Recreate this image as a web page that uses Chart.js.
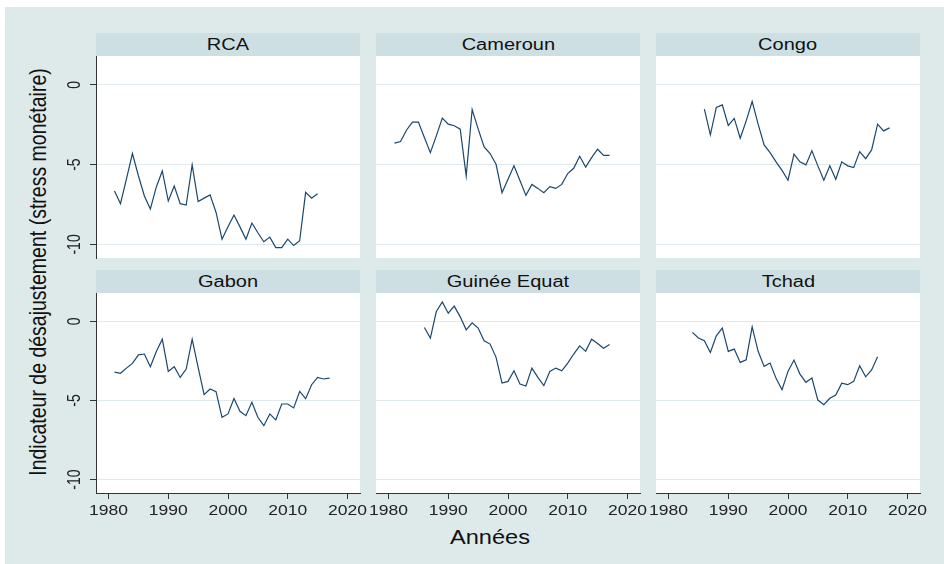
<!DOCTYPE html>
<html>
<head>
<meta charset="utf-8">
<script src="https://cdn.jsdelivr.net/npm/chart.js@4.4.0/dist/chart.umd.min.js"></script>
<style>
  body { margin: 0; width: 944px; height: 564px; overflow: hidden; position: relative; background: #fff;
         font-family: "Liberation Sans", Arial, sans-serif; }
  #bg { position: absolute; left: 5px; top: 7px; right: 0; bottom: 0; background: #deeaea; }
  .hdr { position: absolute; height: 23px; line-height: 23px; background: #cedfe4; text-align: center;
         font-size: 16px; color: #111; }
  .hdr span { display: inline-block; transform: scaleX(1.25); }
  canvas { position: absolute; }
  .ttl { position: absolute; white-space: nowrap; color: #111; }
</style>
</head>
<body>
<div id="bg"></div>
<div class="ttl" id="ytitle" style="left:38px;top:272px;font-size:19.5px;transform:translate(-50%,-50%) rotate(-90deg) scaleY(1.2)">Indicateur de désajustement (stress monétaire)</div>
<div class="ttl" id="xtitle" style="left:490px;top:537px;font-size:20px;transform:translate(-50%,-50%) scaleX(1.18)">Années</div>
<script>
// data
const countries = ["RCA", "Cameroun", "Congo", "Gabon", "Guinée Equat", "Tchad"];
const startYears = [1981, 1981, 1986, 1981, 1986, 1984];

const rca = [-6.65, -7.45, -5.9, -4.31, -5.7, -6.97, -7.78, -6.4, -5.4, -7.28,
  -6.34, -7.45, -7.53, -5.02, -7.32, -7.1, -6.9, -8.0, -9.67, -8.9,
  -8.16, -8.9, -9.67, -8.66, -9.27, -9.83, -9.54, -10.2, -10.2, -9.67,
  -10.07, -9.77, -6.74, -7.1, -6.82];
const cameroun = [-3.66, -3.56, -2.85, -2.34, -2.34, -3.3, -4.25, -3.2, -2.09, -2.47,
  -2.57, -2.78, -5.71, -1.55, -2.76, -3.89, -4.31, -4.98, -6.76, -5.92,
  -5.08, -6.0, -6.93, -6.24, -6.49, -6.76, -6.38, -6.49, -6.24, -5.56,
  -5.23, -4.48, -5.15, -4.56, -4.04, -4.42, -4.42];
const congo = [-1.53, -3.14, -1.42, -1.26, -2.55, -2.11, -3.35, -2.26, -1.05, -2.47,
  -3.77, -4.25, -4.83, -5.36, -5.98, -4.35, -4.83, -5.02, -4.14, -5.08,
  -5.98, -5.08, -5.92, -4.83, -5.08, -5.19, -4.19, -4.63, -4.08, -2.47,
  -2.89, -2.7];
const gabon = [-3.2, -3.28, -2.95, -2.65, -2.11, -2.06, -2.86, -1.9, -1.12, -3.16,
  -2.86, -3.54, -3.01, -1.12, -2.9, -4.63, -4.27, -4.44, -6.06, -5.85,
  -4.88, -5.68, -5.96, -5.11, -6.06, -6.59, -5.85, -6.23, -5.22, -5.22,
  -5.47, -4.42, -4.88, -4.0, -3.54, -3.64, -3.58];
const guineeEquat = [-0.38, -1.05, 0.63, 1.24, 0.52, 0.97, 0.29, -0.53, -0.09, -0.42,
  -1.22, -1.43, -2.27, -3.9, -3.79, -3.12, -3.96, -4.08, -2.95, -3.54,
  -4.06, -3.16, -2.95, -3.12, -2.63, -2.06, -1.54, -1.89, -1.12, -1.39,
  -1.7, -1.45];
const tchad = [-0.69, -1.05, -1.22, -1.96, -0.91, -0.42, -1.89, -1.75, -2.59, -2.42,
  -0.34, -1.89, -2.84, -2.63, -3.6, -4.32, -3.16, -2.44, -3.33, -3.85,
  -3.58, -4.97, -5.26, -4.86, -4.65, -3.9, -4.0, -3.79, -2.8, -3.5,
  -3.07, -2.23];

const series = [rca, cameroun, congo, gabon, guineeEquat, tchad];
const xTicks = [1980, 1990, 2000, 2010, 2020];
const yTicks = [-10, -5, 0];

// layout
const colX = [96, 376, 656];
const hdrY = [33, 270];
const plotY = [56, 293];
const plotH = [202, 200];
const PW = 264, LPAD = 45, RPAD = 30, BPAD = 40;
const FONT = '14px "Liberation Sans", Arial, sans-serif';

// white plot region + tick labels drawn at the scales' own positions
const panelPlugin = {
  id: 'panel',
  beforeDraw(chart) {
    const a = chart.chartArea, ctx = chart.ctx;
    ctx.save();
    ctx.fillStyle = '#fff';
    ctx.fillRect(a.left, a.top, a.right - a.left, a.bottom - a.top);
    ctx.restore();
  },
  afterDraw(chart, args, opts) {
    const a = chart.chartArea, ctx = chart.ctx;
    ctx.save();
    ctx.fillStyle = '#222';
    ctx.font = FONT;
    ctx.textAlign = 'center';
    ctx.textBaseline = 'middle';
    if (opts.showX) {
      chart.scales.x.ticks.forEach(t => {
        const px = chart.scales.x.getPixelForValue(t.value);
        ctx.save();
        ctx.translate(px, a.bottom + 18);
        ctx.scale(1.25, 1);
        ctx.fillText(String(t.value), 0, 0);
        ctx.restore();
      });
    }
    if (opts.showY) {
      chart.scales.y.ticks.forEach(t => {
        const py = chart.scales.y.getPixelForValue(t.value);
        ctx.save();
        ctx.translate(a.left - 21, py);
        ctx.rotate(-Math.PI / 2);
        ctx.scale(1, 1.25);
        ctx.fillText(String(t.value), 0, 0);
        ctx.restore();
      });
    }
    ctx.restore();
  }
};

countries.forEach((name, i) => {
  const col = i % 3, row = Math.floor(i / 3);

  const hdr = document.createElement('div');
  hdr.className = 'hdr';
  hdr.style.left = colX[col] + 'px';
  hdr.style.top = hdrY[row] + 'px';
  hdr.style.width = PW + 'px';
  hdr.innerHTML = '<span></span>';
  hdr.firstChild.textContent = name;
  document.body.appendChild(hdr);

  const cv = document.createElement('canvas');
  cv.width = PW + LPAD + RPAD;
  cv.height = plotH[row] + BPAD;
  cv.style.left = (colX[col] - LPAD) + 'px';
  cv.style.top = plotY[row] + 'px';
  document.body.appendChild(cv);

  const pts = series[i].map((v, k) => ({ x: startYears[i] + k, y: v }));
  const bottomRow = row === 1, leftCol = col === 0;

  new Chart(cv, {
    type: 'line',
    data: {
      datasets: [{
        data: pts,
        borderColor: '#1a476f',
        borderWidth: 1.2,
        pointRadius: 0,
        tension: 0,
        fill: false
      }]
    },
    options: {
      responsive: false,
      animation: false,
      events: [],
      layout: { padding: { left: 0, right: RPAD, top: 0, bottom: 0 } },
      plugins: {
        legend: { display: false },
        tooltip: { enabled: false },
        panel: { showX: bottomRow, showY: leftCol }
      },
      scales: {
        x: {
          type: 'linear',
          min: 1977.9,
          max: 2022.1,
          afterBuildTicks: s => { s.ticks = xTicks.map(v => ({ value: v })); },
          afterFit: s => { s.height = BPAD; },
          ticks: { display: false },
          grid: { display: bottomRow, drawOnChartArea: false, drawTicks: true, tickLength: 6, tickColor: '#333', color: '#333' },
          border: { display: bottomRow, color: '#333', width: 1 }
        },
        y: {
          min: -10.85,
          max: 1.8,
          afterBuildTicks: s => { s.ticks = yTicks.map(v => ({ value: v })); },
          afterFit: s => { s.width = LPAD; },
          ticks: { display: false },
          grid: { color: '#dfeaee', lineWidth: 1, drawTicks: leftCol, tickLength: 6, tickColor: '#333' },
          border: { display: leftCol, color: '#333', width: 1 }
        }
      }
    },
    plugins: [panelPlugin]
  });
});
</script>
</body>
</html>
